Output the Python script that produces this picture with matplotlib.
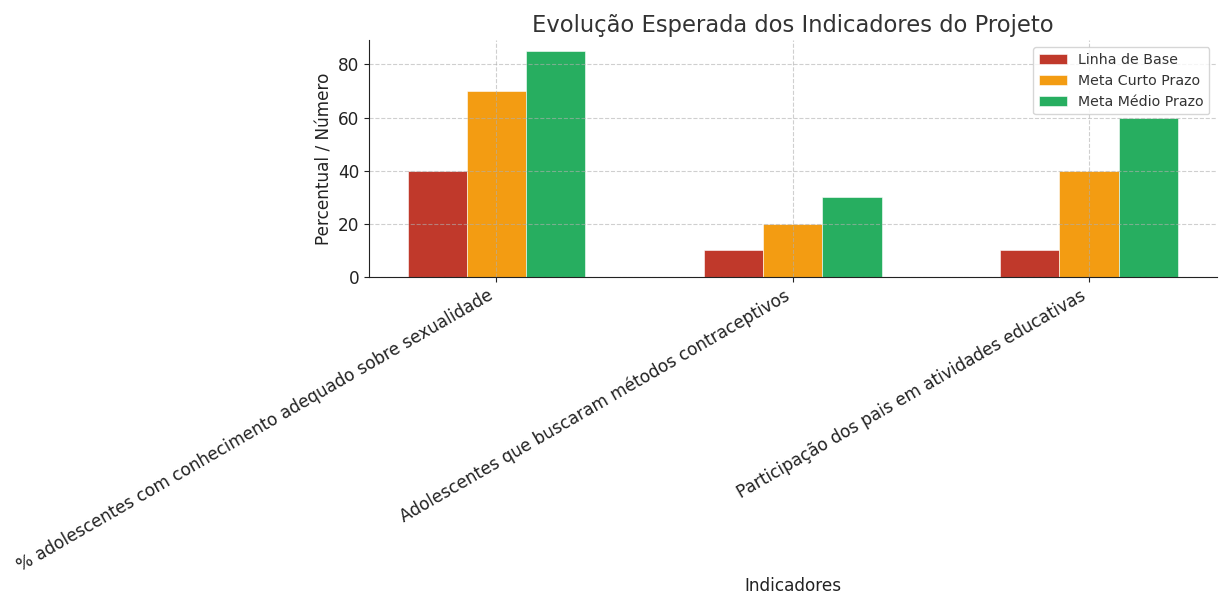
import matplotlib
matplotlib.use("Agg")
import matplotlib.pyplot as plt
import numpy as np

categories = [
    "% adolescentes com conhecimento adequado sobre sexualidade",
    "Adolescentes que buscaram métodos contraceptivos",
    "Participação dos pais em atividades educativas",
]
series_names = ["Linha de Base", "Meta Curto Prazo", "Meta Médio Prazo"]
linha_base = [40, 10, 10]
meta_curto = [70, 20, 40]
meta_medio = [85, 30, 60]
colors = ["#c0392b", "#f39c12", "#27ae60"]

text_color = "#333333"
plt.rcParams["font.family"] = ["DejaVu Sans"]

fig = plt.figure(figsize=(12.19, 5.95), dpi=100)
ax = fig.add_axes([0.3027, 0.5345, 0.6953, 0.3985])

x = np.arange(len(categories))
w = 0.2
for i, (vals, name) in enumerate(zip([linha_base, meta_curto, meta_medio], series_names)):
    ax.bar(x + (i - 1) * w, vals, w, label=name, color=colors[i], edgecolor="#ffffff", linewidth=0.4)

ax.set_xticks(x)
ax.set_xticklabels(categories, rotation=30, ha="right", fontsize=12.15, color="#222222")
ax.tick_params(axis="y", labelsize=12.15, colors="#222222")
ax.tick_params(axis="x", colors="#222222")
ax.set_ylabel("Percentual / Número", fontsize=12.15, color="#222222", labelpad=3)
ax.set_xlabel("Indicadores", fontsize=12.15, color="#222222")
ax.xaxis.set_label_coords(0.5, -1.265)
ax.set_title("Evolução Esperada dos Indicadores do Projeto", fontsize=16.3, color=text_color)
ax.grid(True, linestyle="--", color="#b0b0b0", linewidth=0.8, alpha=0.6)
for s in ["top", "right"]:
    ax.spines[s].set_visible(False)
ax.spines["left"].set_color("#222222")
ax.spines["bottom"].set_color("#222222")
leg = ax.legend(loc="upper right", fontsize=10.2)
for t in leg.get_texts():
    t.set_color(text_color)

fig.savefig("out.png", dpi=100)
